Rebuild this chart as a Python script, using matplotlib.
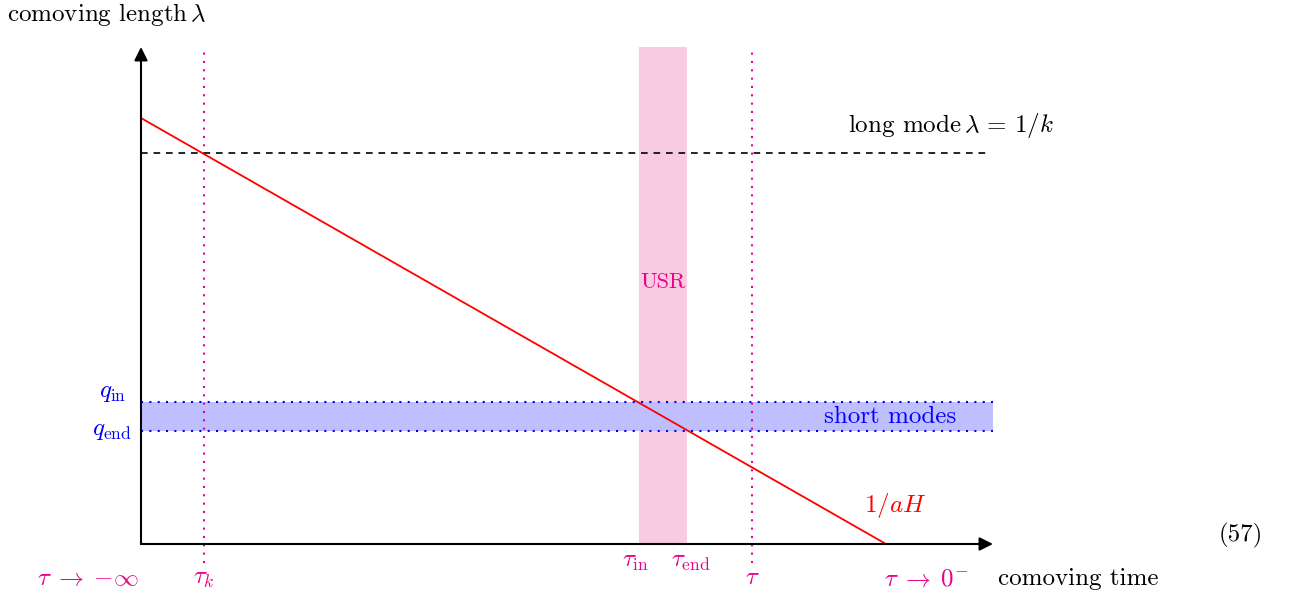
import matplotlib.pyplot as plt

plt.rcParams['font.family'] = 'serif'
plt.rcParams['font.serif'] = ['cmr10']
plt.rcParams['mathtext.fontset'] = 'cm'
plt.rcParams['axes.unicode_minus'] = False

# diagram coordinates (origin at the axes corner)
horizon_x = [0, 745]        # 1/aH line, comoving time
horizon_y = [426, 0]        # 1/aH line, comoving length
long_mode = 391             # lambda = 1/k
q_in, q_end = 142, 113      # short modes band
tau_k, tau_now = 63, 611    # dotted times
tau_in, tau_end = 498, 546  # USR band
x_max, y_max = 852, 497

pink = '#ec008c'

fig = plt.figure(figsize=(12.9, 5.99), dpi=100)
ax = fig.add_axes([0, 0, 1, 1])
ax.set_xlim(-141, 1149)
ax.set_ylim(-55, 544)
ax.axis('off')

# bands
ax.axvspan(tau_in, tau_end, ymin=55/599, ymax=(55+y_max)/599, color='#f8cbe0', lw=0, zorder=0)
ax.fill_between([0, x_max], q_end, q_in, color='#bfbfff', lw=0, zorder=0)
ax.plot([0, x_max], [q_in, q_in], color='blue', ls=(0, (1, 3)), lw=1.5)
ax.plot([0, x_max], [q_end, q_end], color='blue', ls=(0, (1, 3)), lw=1.5)

# dotted times
for t in [tau_k, tau_now]:
    ax.plot([t, t], [-19, y_max], color=pink, ls=(0, (1, 3)), lw=1.5)

# long mode
ax.plot([0, 847], [long_mode, long_mode], color='k', ls=(0, (4, 3.5)), lw=1.2)

# horizon
ax.plot(horizon_x, horizon_y, color='red', lw=1.3)

# axes arrows
ax.annotate('', xy=(0, y_max), xytext=(0, 0),
            arrowprops=dict(arrowstyle='-|>', lw=1.5, color='k', mutation_scale=20, shrinkA=0, shrinkB=0))
ax.annotate('', xy=(x_max, 0), xytext=(0, 0),
            arrowprops=dict(arrowstyle='-|>', lw=1.5, color='k', mutation_scale=20, shrinkA=0, shrinkB=0))

fs = 18
ax.text(-134, 530, r'comoving length$\,\lambda$', fontsize=fs, ha='left', va='center')
ax.text(857, -35, 'comoving time', fontsize=fs, ha='left', va='center')
ax.text(810, 419, r'long mode$\,\lambda\,=\,1/k$', fontsize=fs, ha='center', va='center')
ax.text(522, 262, 'USR', fontsize=fs - 2, color=pink, ha='center', va='center')
ax.text(749, 127, 'short modes', fontsize=fs, color='blue', ha='center', va='center')
ax.text(754, 38, r'$1/aH$', fontsize=fs, color='red', ha='center', va='center')
ax.text(-15, 151, r'$q_{\rm in}$', fontsize=fs, color='blue', ha='right', va='center')
ax.text(-9, 113, r'$q_{\rm end}$', fontsize=fs, color='blue', ha='right', va='center')

ax.text(-53, -35, r'$\tau\;\to\;{-}\infty$', fontsize=fs, color=pink, ha='center', va='center')
ax.text(tau_k, -35, r'$\tau_k$', fontsize=fs, color=pink, ha='center', va='center')
ax.text(tau_in - 3, -18, r'$\tau_{\rm in}$', fontsize=fs, color=pink, ha='center', va='center')
ax.text(tau_end + 4, -18, r'$\tau_{\rm end}$', fontsize=fs, color=pink, ha='center', va='center')
ax.text(tau_now, -34, r'$\tau$', fontsize=fs, color=pink, ha='center', va='center')
ax.text(785, -36, r'$\tau\;\to\;0^{-}$', fontsize=fs, color=pink, ha='center', va='center')

ax.text(1100, 9, '(57)', fontsize=fs, ha='center', va='center')

plt.savefig('out.png', dpi=100)
